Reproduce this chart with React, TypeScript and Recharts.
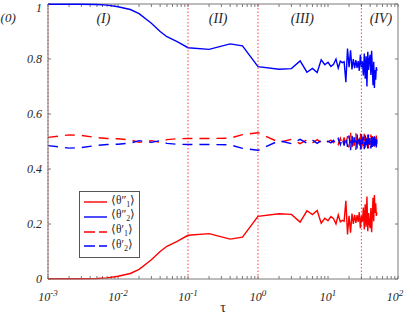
import {
  LineChart,
  Line,
  XAxis,
  YAxis,
  ReferenceLine,
  ReferenceDot,
  Label,
  Legend,
} from "recharts";

const SERIF = "'Liberation Serif', 'Times New Roman', serif";
const TEXT = "#262626";
const FRAME = "#7a7a7a";
const RED = "#ff0000";
const BLUE = "#0000ff";

// time points (log axis)
const tau = [
  0.001, 0.002, 0.003, 0.005, 0.007, 0.01, 0.015, 0.02, 0.03, 0.04, 0.05, 0.07, 0.1,
  0.2, 0.4, 0.6,
  1, 2, 3, 4, 5, 6, 7, 8, 9, 10,
  11, 12, 13, 14, 15, 16, 17, 18, 19, 20,
  21, 22, 23, 24, 25, 26, 27, 28, 29, 30,
  31, 32, 33, 34, 35, 36, 37, 38, 39, 40,
  41, 42, 43, 44, 45, 46, 47, 48, 49, 50,
];

// <theta''_1>  (red solid)
const thetaPP1 = [
  0.001, 0.001, 0.001, 0.002, 0.004, 0.01, 0.02, 0.035, 0.07, 0.1, 0.119, 0.137, 0.159,
  0.165, 0.145, 0.152,
  0.228, 0.237, 0.235, 0.207, 0.248, 0.234, 0.249, 0.203, 0.221, 0.212,
  0.227, 0.219, 0.2, 0.233, 0.208, 0.213, 0.21, 0.284, 0.162, 0.23,
  0.168, 0.238, 0.2, 0.233, 0.204, 0.232, 0.208, 0.243, 0.185, 0.23,
  0.208, 0.26, 0.18, 0.272, 0.19, 0.3, 0.174, 0.24, 0.2, 0.185,
  0.258, 0.17, 0.235, 0.295, 0.21, 0.305, 0.24, 0.275, 0.23, 0.242,
];

// <theta''_2>  (blue solid)
const thetaPP2 = [
  0.999, 0.999, 0.999, 0.998, 0.996, 0.99, 0.98, 0.965, 0.93, 0.9, 0.881, 0.863, 0.841,
  0.835, 0.855, 0.848,
  0.772, 0.763, 0.765, 0.793, 0.752, 0.766, 0.751, 0.797, 0.779, 0.788,
  0.773, 0.781, 0.8, 0.767, 0.792, 0.787, 0.79, 0.716, 0.838, 0.77,
  0.832, 0.762, 0.8, 0.767, 0.796, 0.768, 0.792, 0.757, 0.815, 0.77,
  0.792, 0.74, 0.82, 0.728, 0.81, 0.7, 0.826, 0.76, 0.8, 0.815,
  0.742, 0.83, 0.765, 0.705, 0.79, 0.695, 0.76, 0.725, 0.77, 0.758,
];

// <theta'_1>  (red dashed)
const thetaP1 = [
  0.515, 0.524, 0.522, 0.514, 0.511, 0.51, 0.506, 0.497, 0.503, 0.497, 0.507, 0.51, 0.511,
  0.511, 0.512, 0.525,
  0.532, 0.497, 0.508, 0.492, 0.506, 0.495, 0.507, 0.496, 0.503, 0.499,
  0.505, 0.496, 0.508, 0.49, 0.512, 0.488, 0.515, 0.482, 0.52, 0.478,
  0.532, 0.475, 0.522, 0.485, 0.53, 0.472, 0.518, 0.49, 0.535, 0.47,
  0.52, 0.482, 0.528, 0.476, 0.515, 0.49, 0.53, 0.475, 0.512, 0.488,
  0.525, 0.478, 0.52, 0.485, 0.527, 0.48, 0.515, 0.49, 0.522, 0.483,
];

// <theta'_2>  (blue dashed)
const thetaP2 = [
  0.485, 0.476, 0.478, 0.486, 0.489, 0.49, 0.494, 0.503, 0.497, 0.503, 0.493, 0.49, 0.489,
  0.489, 0.488, 0.475,
  0.468, 0.503, 0.492, 0.508, 0.494, 0.505, 0.493, 0.504, 0.497, 0.501,
  0.495, 0.504, 0.492, 0.51, 0.488, 0.512, 0.485, 0.518, 0.48, 0.522,
  0.468, 0.525, 0.478, 0.515, 0.47, 0.528, 0.482, 0.51, 0.465, 0.53,
  0.48, 0.518, 0.472, 0.524, 0.485, 0.51, 0.47, 0.525, 0.488, 0.512,
  0.475, 0.522, 0.48, 0.515, 0.473, 0.52, 0.485, 0.51, 0.478, 0.517,
];

const xTicks = [0.001, 0.01, 0.1, 1, 10, 100];
const xTickExp = ["-3", "-2", "-1", "0", "1", "2"];
const yTicks = [0, 0.2, 0.4, 0.6, 0.8, 1];
const yTickLabels = ["0", "0.2", "0.4", "0.6", "0.8", "1"];

const regionBounds = [0.001, 0.1, 1, 30];
const regionLabels = ["(I)", "(II)", "(III)", "(IV)"];
const regionLabelTau = [0.0062, 0.27, 4.3, 57];

const legendItems = [
  { key: "pp1", prime: "\u2033", sub: "1", color: RED, dashed: false },
  { key: "pp2", prime: "\u2033", sub: "2", color: BLUE, dashed: false },
  { key: "p1", prime: "\u2032", sub: "1", color: RED, dashed: true },
  { key: "p2", prime: "\u2032", sub: "2", color: BLUE, dashed: true },
];

const data = tau.map((t, i) => ({
  tau: t,
  pp1: thetaPP1[i],
  pp2: thetaPP2[i],
  p1: thetaP1[i],
  p2: thetaP2[i],
}));

// inward tick marks (decades + minor log ticks)
const decades = [0.001, 0.01, 0.1, 1, 10];
const xMarks = [...decades.flatMap((d) => [1, 2, 3, 4, 5, 6, 7, 8, 9].map((k) => k * d)), 100];
const TICK_Y = 0.011;
const TICK_X = 1.104;

function XTick({ x, y, payload }: any) {
  const i = xTicks.indexOf(payload.value);
  return (
    <text x={x} y={y + 22} textAnchor="middle" fontFamily={SERIF} fontStyle="italic" fontSize={12} fill={TEXT}>
      10
      <tspan dy={-5} fontSize={9}>
        {xTickExp[i]}
      </tspan>
    </text>
  );
}

function LegendBox() {
  return (
    <div
      style={{
        border: "1px solid #555",
        background: "#fff",
        padding: "3px 4px 3px 3px",
        fontFamily: SERIF,
        fontSize: 11.5,
        color: TEXT,
        lineHeight: "14.7px",
      }}
    >
      {legendItems.map((it) => (
        <div key={it.key} style={{ display: "flex", alignItems: "center", height: 14.7, whiteSpace: "nowrap" }}>
          <svg width={25} height={6}>
            <line
              x1={1}
              x2={24}
              y1={3}
              y2={3}
              stroke={it.color}
              strokeWidth={1.4}
              strokeDasharray={it.dashed ? "11 4" : undefined}
            />
          </svg>
          <span style={{ marginLeft: 3 }}>
            {"\u27e8\u03b8" + it.prime}
            <span style={{ fontSize: 8, verticalAlign: "-3px" }}>{it.sub}</span>
            {"\u27e9"}
          </span>
        </div>
      ))}
    </div>
  );
}

export default function App() {
  return (
    <div style={{ position: "absolute", left: 0, top: 0, background: "#fff" }}>
      <LineChart width={407} height={316} data={data} margin={{ top: 4, right: 9, left: 0, bottom: 0 }}>
        <XAxis
          dataKey="tau"
          type="number"
          scale="log"
          domain={[0.001, 100]}
          allowDataOverflow
          ticks={xTicks}
          tick={<XTick />}
          tickLine={false}
          tickSize={0}
          tickMargin={0}
          height={37}
          stroke={FRAME}
        >
          <Label value="τ" position="insideBottom" offset={4} fontFamily={SERIF} fontSize={14} fill={TEXT} />
        </XAxis>
        <YAxis
          type="number"
          domain={[0, 1]}
          ticks={yTicks}
          tickFormatter={(v: number) => yTickLabels[yTicks.indexOf(v)]}
          tick={{ fontFamily: SERIF, fontStyle: "italic", fontSize: 12, fill: TEXT }}
          tickLine={false}
          tickSize={0}
          tickMargin={6}
          width={48}
          stroke={FRAME}
        />

        <ReferenceLine y={1} stroke={FRAME} />
        <ReferenceLine x={100} stroke={FRAME} />
        {xMarks.map((v) => (
          <ReferenceLine key={"b" + v} segment={[{ x: v, y: 0 }, { x: v, y: TICK_Y }]} stroke={FRAME} />
        ))}
        {xMarks.map((v) => (
          <ReferenceLine key={"t" + v} segment={[{ x: v, y: 1 }, { x: v, y: 1 - TICK_Y }]} stroke={FRAME} />
        ))}
        {yTicks.map((v) => (
          <ReferenceLine key={"l" + v} segment={[{ x: 0.001, y: v }, { x: 0.001 * TICK_X, y: v }]} stroke={FRAME} />
        ))}
        {yTicks.map((v) => (
          <ReferenceLine key={"r" + v} segment={[{ x: 100 / TICK_X, y: v }, { x: 100, y: v }]} stroke={FRAME} />
        ))}

        <Line dataKey="p1" stroke={RED} strokeWidth={1.4} strokeDasharray="10 7" dot={false} isAnimationActive={false} />
        <Line dataKey="p2" stroke={BLUE} strokeWidth={1.4} strokeDasharray="10 7" dot={false} isAnimationActive={false} />
        <Line dataKey="pp1" stroke={RED} strokeWidth={1.4} dot={false} isAnimationActive={false} />
        <Line dataKey="pp2" stroke={BLUE} strokeWidth={1.4} dot={false} isAnimationActive={false} />

        {regionBounds.map((b) => (
          <ReferenceLine
            key={"v" + b}
            x={b}
            stroke={RED}
            strokeWidth={1}
            strokeOpacity={0.75}
            strokeDasharray="1.5 2"
          />
        ))}

        {regionLabels.map((lab, i) => (
          <ReferenceDot key={lab} x={regionLabelTau[i]} y={0.95} r={0} fill="none" stroke="none">
            <Label value={lab} position="center" fontFamily={SERIF} fontStyle="italic" fontSize={14} fill={TEXT} />
          </ReferenceDot>
        ))}
        <ReferenceDot x={0.00027} y={0.95} r={0} fill="none" stroke="none" ifOverflow="visible">
          <Label value="(0)" position="center" fontFamily={SERIF} fontStyle="italic" fontSize={13} fill={TEXT} />
        </ReferenceDot>

        <Legend
          layout="horizontal"
          verticalAlign="middle"
          align="center"
          content={() => <LegendBox />}
          wrapperStyle={{ left: 79, top: 191, width: "auto", height: "auto" }}
        />
      </LineChart>
    </div>
  );
}
